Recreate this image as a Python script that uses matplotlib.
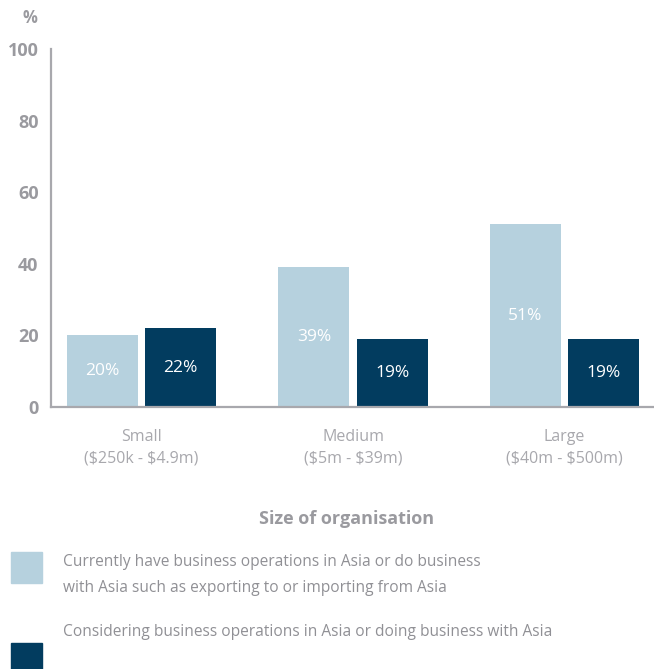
import matplotlib
matplotlib.use("Agg")
import matplotlib.pyplot as plt
from matplotlib.patches import Rectangle
import numpy as np

# Share of organisations by size (%)
sizes = ["Small", "Medium", "Large"]
ranges = [r"(\$250k - \$4.9m)", r"(\$5m - \$39m)", r"(\$40m - \$500m)"]
current = [20, 39, 51]
considering = [22, 19, 19]
series_labels = [
    "Currently have business operations in Asia or do business\nwith Asia such as exporting to or importing from Asia",
    "Considering business operations in Asia or doing business with Asia",
]

LIGHT = "#b6d1de"
DARK = "#023c5f"
AXIS = "#a8a8ad"
TEXT = "#9a9a9f"

plt.rcParams["font.family"] = ["Open Sans", "DejaVu Sans"]

fig = plt.figure(figsize=(6.54, 6.69), dpi=100)
ax = fig.add_axes([0.078, 0.3916, 0.922, 0.5352])

x = np.arange(len(sizes))
w = 0.335
off = 0.185
b1 = ax.bar(x - off, current, w, color=LIGHT)
b2 = ax.bar(x + off, considering, w, color=DARK)

for bars, vals in ((b1, current), (b2, considering)):
    for r, v in zip(bars, vals):
        ax.text(r.get_x() + r.get_width() / 2, v / 2, f"{v}%", ha="center",
                va="center", color="white", fontsize=12.5)

ax.set_xlim(-0.427, 2.422)
ax.set_ylim(0, 100)
ax.set_yticks([0, 20, 40, 60, 80, 100])
ax.set_yticklabels(["0", "20", "40", "60", "80", "100"], fontweight="bold",
                   color=TEXT, fontsize=13)
ax.tick_params(axis="y", length=0, pad=9)
ax.set_xticks(x)
ax.set_xticklabels([f"{s}\n{r}" for s, r in zip(sizes, ranges)],
                   color="#a8a8ad", fontsize=11.5, linespacing=1.45)
ax.tick_params(axis="x", length=0, pad=16)

for side in ("top", "right"):
    ax.spines[side].set_visible(False)
for side in ("left", "bottom"):
    ax.spines[side].set_color(AXIS)
    ax.spines[side].set_linewidth(1.6)

fig.text(30 / 654, 1 - 18 / 669, "%", ha="center", va="center",
         color=TEXT, fontsize=12, fontweight="bold")
fig.text(347 / 654, 1 - 519 / 669, "Size of organisation", ha="center",
         va="center", color=TEXT, fontsize=13, fontweight="bold")

# legend drawn by hand in figure pixels
for (y0, col), lab, ty in zip([(552, LIGHT), (643, DARK)], series_labels,
                              [575, 632]):
    fig.patches.append(Rectangle((11 / 654, 1 - (y0 + 31) / 669), 31 / 654,
                                 31 / 669, transform=fig.transFigure,
                                 color=col))
    fig.text(63 / 654, 1 - ty / 669, lab, ha="left", va="center",
             color="#909095", fontsize=11.2, linespacing=1.75)

fig.savefig("out.png", dpi=100)
